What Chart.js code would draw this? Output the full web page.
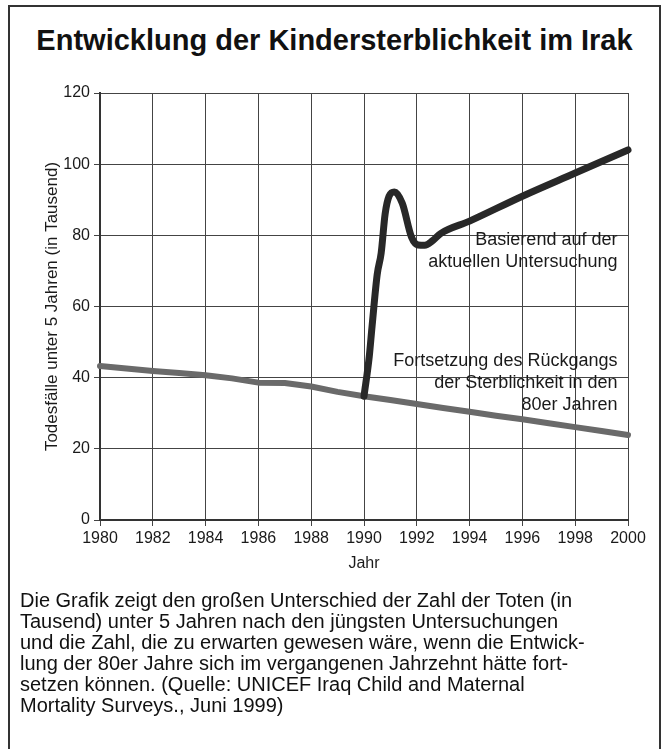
<!DOCTYPE html>
<html>
<head>
<meta charset="utf-8">
<script src="https://cdn.jsdelivr.net/npm/chart.js@4.4.1/dist/chart.umd.min.js"></script>
<style>
  html, body { margin: 0; padding: 0; background: #fff; }
  body { width: 662px; height: 749px; position: relative; overflow: hidden; font-family: "Liberation Sans", Arial, sans-serif; color: #111; }
  #frame { position: absolute; left: 8px; top: 5px; width: 653px; height: 800px; box-sizing: border-box; border: 2px solid #333; border-bottom: none; }
  #title { position: absolute; left: 8px; width: 653px; top: 23px; text-align: center; font-weight: bold; font-size: 29px; line-height: 34px; }
  #chart { position: absolute; left: 0; top: 0; }
  #caption { position: absolute; left: 20px; top: 590px; font-size: 20px; line-height: 21px; }
</style>
</head>
<body>
<div id="frame"></div>
<div id="title">Entwicklung der Kindersterblichkeit im Irak</div>
<canvas id="chart" width="662" height="749"></canvas>
<div id="caption">Die Grafik zeigt den großen Unterschied der Zahl der Toten (in<br>Tausend) unter 5 Jahren nach den jüngsten Untersuchungen<br>und die Zahl, die zu erwarten gewesen wäre, wenn die Entwick-<br>lung der 80er Jahre sich im vergangenen Jahrzehnt hätte fort-<br>setzen können. (Quelle: UNICEF Iraq Child and Maternal<br>Mortality Surveys., Juni 1999)</div>
<script>
const xTicks = [1980, 1982, 1984, 1986, 1988, 1990, 1992, 1994, 1996, 1998, 2000];
const yTicks = [0, 20, 40, 60, 80, 100, 120];

// continuation of the 80s decline (grey)
const trendYears = [1980, 1981, 1982, 1983, 1984, 1985, 1986, 1987, 1988, 1989, 1990,
                    1991, 1992, 1993, 1994, 1995, 1996, 1997, 1998, 1999, 2000];
const trendValues = [43.3, 42.6, 41.9, 41.3, 40.7, 39.8, 38.6, 38.5, 37.5, 36.0, 34.8,
                     33.7, 32.6, 31.5, 30.4, 29.3, 28.3, 27.2, 26.1, 25.0, 23.9];

// based on the current survey (black)
const surveyYears = [1990, 1990.2, 1990.3, 1990.5, 1990.65, 1990.8, 1990.95, 1991.15, 1991.45,
                     1991.8, 1992.05, 1992.3, 1992.6, 1992.9, 1994, 1996, 1998, 2000];
const surveyValues = [34.8, 46, 54, 69, 75, 86, 91, 92.2, 89,
                      79.5, 77.3, 77.2, 78.5, 80.5, 84, 91, 97.5, 104];

const surveyNote = ['Basierend auf der', 'aktuellen Untersuchung'];
const trendNote = ['Fortsetzung des Rückgangs', 'der Sterblichkeit in den', '80er Jahren'];

const fontFamily = '"Liberation Sans", Arial, sans-serif';
Chart.defaults.font.family = fontFamily;

// text notes inside the plot, right aligned
const notesPlugin = {
    id: 'notes',
    afterDatasetsDraw(chart) {
        const {ctx, scales: {x, y}} = chart;
        ctx.save();
        ctx.font = '18px ' + fontFamily;
        ctx.fillStyle = '#1a1a1a';
        ctx.textAlign = 'right';
        ctx.textBaseline = 'alphabetic';
        const right = x.getPixelForValue(1999.6);
        const put = (lines, top) => {
            lines.forEach((t, i) => ctx.fillText(t, right, top + i * 22));
        };
        put(surveyNote, y.getPixelForValue(77.2));
        put(trendNote, y.getPixelForValue(43.3));
        ctx.restore();
    }
};

const toPoints = (xs, ys) => xs.map((v, i) => ({x: v, y: ys[i]}));

var ctx = document.getElementById('chart').getContext('2d');
new Chart(ctx, {
    type: 'line',
    data: {
        datasets: [{
            data: toPoints(surveyYears, surveyValues),
            borderColor: '#282828',
            borderWidth: 7,
            cubicInterpolationMode: 'monotone',
            borderCapStyle: 'round',
            borderJoinStyle: 'round',
            pointRadius: 0,
            clip: false
        }, {
            data: toPoints(trendYears, trendValues),
            borderColor: '#6a6a6a',
            borderWidth: 6,
            borderCapStyle: 'round',
            borderJoinStyle: 'round',
            pointRadius: 0,
            clip: false
        }]
    },
    options: {
        responsive: false,
        animation: false,
        layout: {
            padding: {left: 40, top: 93, right: 34, bottom: 174}
        },
        plugins: {
            legend: {display: false},
            tooltip: {enabled: false}
        },
        scales: {
            x: {
                type: 'linear',
                min: 1980,
                max: 2000,
                afterBuildTicks: s => { s.ticks = xTicks.map(v => ({value: v})); },
                afterFit: s => { s.height = 55; },
                ticks: {
                    color: '#1a1a1a',
                    font: {size: 16},
                    padding: 3,
                    maxRotation: 0,
                    autoSkip: false,
                    callback: v => String(v)
                },
                grid: {color: '#444', lineWidth: 1, tickLength: 6},
                border: {color: '#333', width: 2},
                title: {
                    display: true,
                    text: 'Jahr',
                    color: '#1a1a1a',
                    font: {size: 16},
                    padding: {top: 0, bottom: 2}
                }
            },
            y: {
                min: 0,
                max: 120,
                afterBuildTicks: s => { s.ticks = yTicks.map(v => ({value: v})); },
                afterFit: s => { s.width = 60; },
                ticks: {
                    color: '#1a1a1a',
                    font: {size: 16},
                    padding: 4
                },
                grid: {color: '#444', lineWidth: 1, tickLength: 6},
                border: {color: '#333', width: 2},
                title: {
                    display: true,
                    text: 'Todesfälle unter 5 Jahren (in Tausend)',
                    color: '#1a1a1a',
                    font: {size: 17},
                    padding: {top: 2, bottom: 0}
                }
            }
        }
    },
    plugins: [notesPlugin]
});
</script>
</body>
</html>
